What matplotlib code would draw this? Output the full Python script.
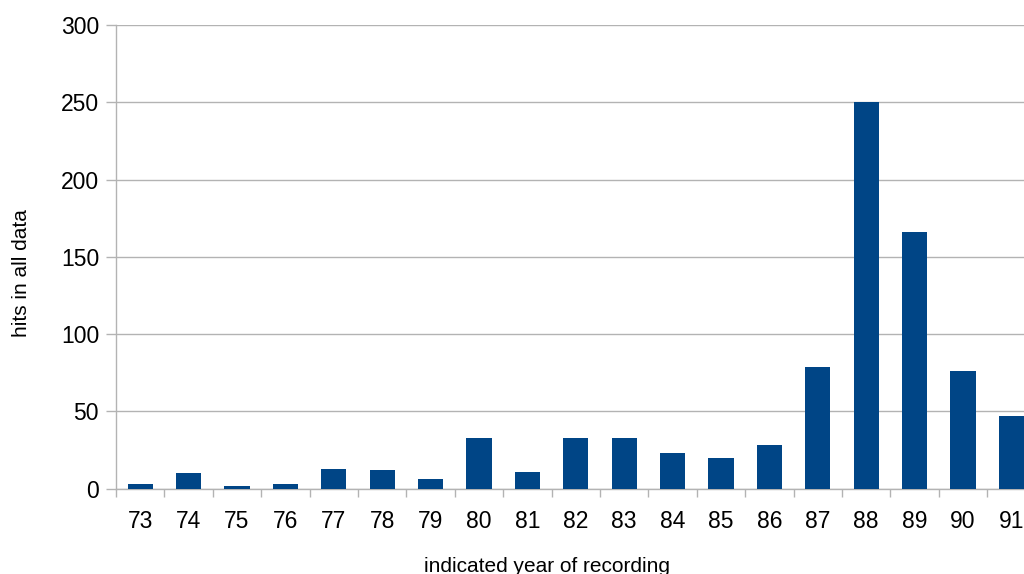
import matplotlib
matplotlib.use("Agg")
import matplotlib.pyplot as plt
import numpy as np

years = ["73", "74", "75", "76", "77", "78", "79", "80", "81", "82",
         "83", "84", "85", "86", "87", "88", "89", "90", "91"]
hits = [3, 10, 2, 3, 13, 12, 6, 33, 11, 33, 33, 23, 20, 28, 79, 250, 166, 76, 47]
yticks = [0, 50, 100, 150, 200, 250, 300]

plt.rcParams['font.family'] = ['Liberation Sans', 'DejaVu Sans']

fig = plt.figure(figsize=(10.24, 5.74), dpi=100)
W, H = 1024, 574
left, right_px, top, bottom = 116, 116 + 19 * 48.4, 25, 488.7
ax = fig.add_axes([left / W, 1 - bottom / H, (right_px - left) / W, (bottom - top) / H])

x = np.arange(len(years))
ax.bar(x, hits, width=0.52, color="#004586", zorder=3)

ax.set_xlim(-0.5, len(years) - 0.5)
ax.set_ylim(0, 300)
ax.set_yticks(yticks)
ax.set_yticklabels([str(v) for v in yticks], fontsize=16.5)
ax.yaxis.grid(True, color="#b3b3b3", linewidth=1, zorder=0)

ax.set_xticks(x)
ax.set_xticklabels(years, fontsize=16.5)
ax.set_xticks(np.arange(len(years) + 1) - 0.5, minor=True)
ax.tick_params(axis='x', which='major', length=0, pad=15)
ax.tick_params(axis='x', which='minor', length=5.8, color="#b3b3b3", width=1)
ax.tick_params(axis='y', which='major', length=7.2, color="#b3b3b3", width=1, pad=5)

for s in ["top", "right"]:
    ax.spines[s].set_visible(False)
for s in ["left", "bottom"]:
    ax.spines[s].set_color("#b3b3b3")
    ax.spines[s].set_linewidth(1)

fig.text(27 / W, 1 - 273 / H, "hits in all data", rotation=90, fontsize=15,
         ha="center", va="baseline", rotation_mode="anchor")
fig.text(547 / W, 1 - 572 / H, "indicated year of recording", fontsize=15,
         ha="center", va="baseline")

fig.savefig("out.png", dpi=100)
